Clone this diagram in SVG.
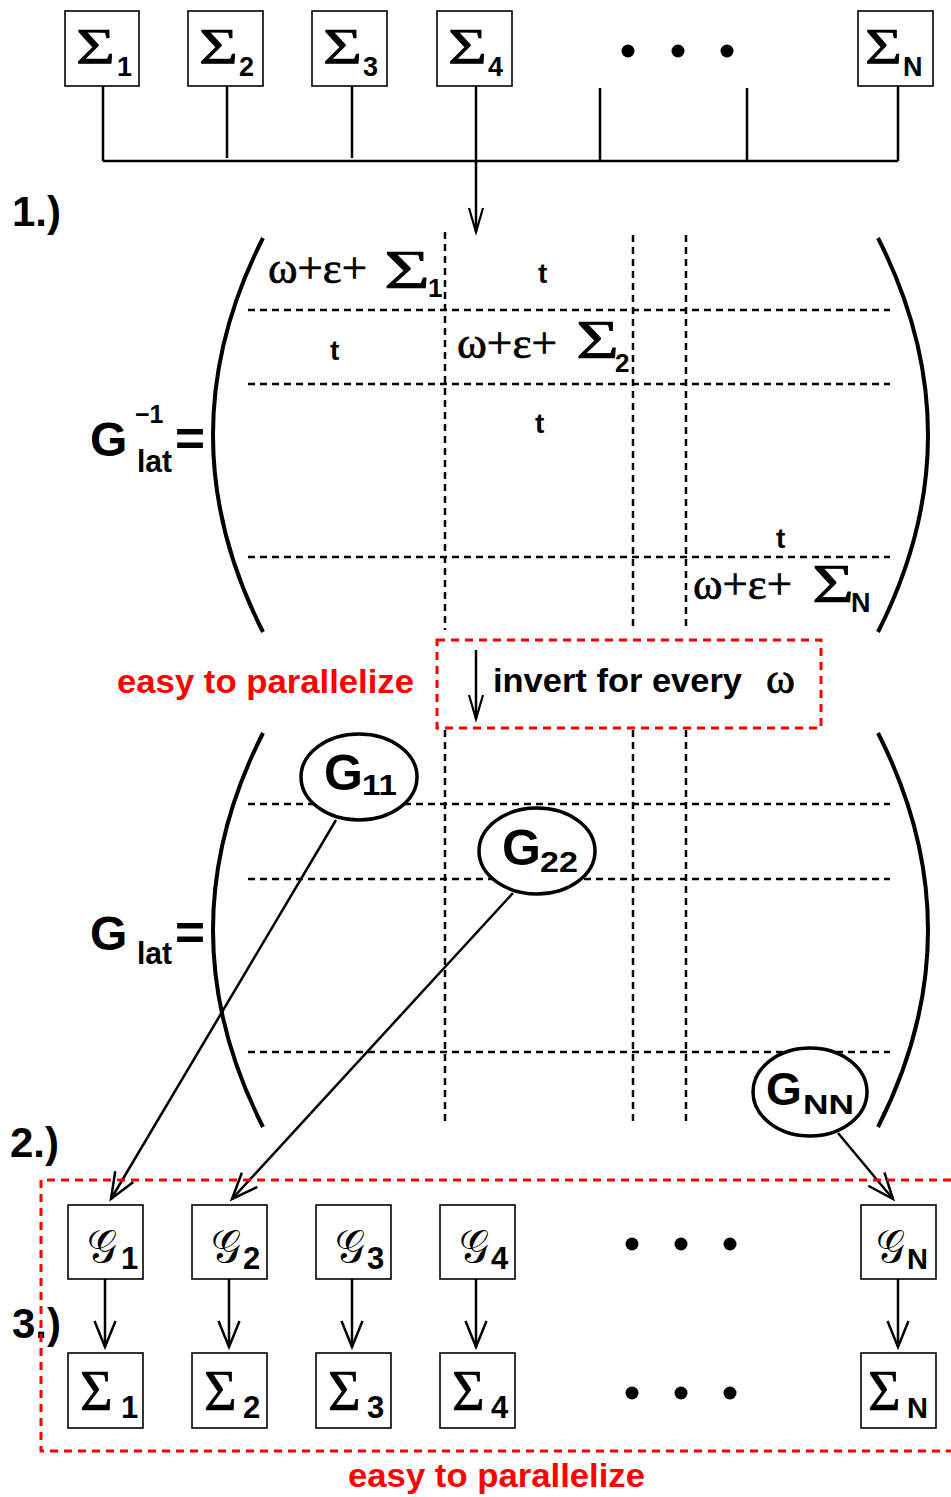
<svg xmlns="http://www.w3.org/2000/svg" width="951" height="1497" viewBox="0 0 951 1497">
<defs>
<style>
.box{fill:#fff;stroke:#000;stroke-width:1.6}
.sig{font-family:"Liberation Serif","Times New Roman",serif;fill:#000;stroke:#000;stroke-width:0.7}
.bs{font-family:"Liberation Sans",Arial,sans-serif;font-weight:bold;fill:#000}
.red{fill:#ff0000}
.dash{stroke:#000;stroke-width:2.5;stroke-dasharray:7 5;fill:none}
.rdash{stroke:#ff0000;stroke-width:3;stroke-dasharray:8 6;fill:none}
.paren{stroke:#000;stroke-width:4;fill:none}
.conn{stroke:#000;stroke-width:2.5;fill:none}
.ell{fill:#fff;stroke:#000;stroke-width:3.5}
.scr{font-family:"DejaVu Serif","DejaVu Sans","Noto Sans",serif;font-style:normal;fill:#000}
</style>
<marker id="aw" markerUnits="userSpaceOnUse" markerWidth="32" markerHeight="26" refX="27" refY="12" orient="auto">
<path d="M1,1.5 L27,12 L1,22.5" fill="none" stroke="#000" stroke-width="2.5"/>
</marker>
<marker id="an" markerUnits="userSpaceOnUse" markerWidth="30" markerHeight="18" refX="25" refY="8" orient="auto">
<path d="M1,1 L25,8 L1,15" fill="none" stroke="#000" stroke-width="2.2"/>
</marker>
</defs>
<rect width="951" height="1497" fill="#fff"/>

<!-- connectors -->
<g id="connectors">
<path class="conn" d="M103,86 V161 M227,86 V158 M352,86 V158 M600,88 V161 M747,88 V161 M898,86 V161 M103,161 H898"/>
<line class="conn" x1="476" y1="86" x2="476" y2="232" marker-end="url(#an)"/>
<line class="conn" x1="476" y1="650" x2="476" y2="719" marker-end="url(#an)"/>
<line class="conn" x1="336" y1="820" x2="111" y2="1199" marker-end="url(#aw)"/>
<line class="conn" x1="513" y1="893" x2="232" y2="1199" marker-end="url(#aw)"/>
<line class="conn" x1="838" y1="1133" x2="893" y2="1199" marker-end="url(#aw)"/>
<line class="conn" x1="105" y1="1279" x2="105" y2="1347" marker-end="url(#aw)"/>
<line class="conn" x1="229" y1="1279" x2="229" y2="1347" marker-end="url(#aw)"/>
<line class="conn" x1="352" y1="1279" x2="352" y2="1347" marker-end="url(#aw)"/>
<line class="conn" x1="476" y1="1279" x2="476" y2="1347" marker-end="url(#aw)"/>
<line class="conn" x1="898" y1="1279" x2="898" y2="1347" marker-end="url(#aw)"/>
</g>

<!-- top sigma boxes -->
<g id="top-s1"><rect class="box" x="65" y="11" width="74" height="75"/><text class="sig" x="76" y="63" font-size="51" textLength="39" lengthAdjust="spacingAndGlyphs">Σ</text><text class="bs" x="117" y="76" font-size="27">1</text></g>
<g id="top-s2"><rect class="box" x="188" y="11" width="75" height="75"/><text class="sig" x="199" y="63" font-size="51" textLength="39" lengthAdjust="spacingAndGlyphs">Σ</text><text class="bs" x="239" y="76" font-size="27">2</text></g>
<g id="top-s3"><rect class="box" x="312" y="11" width="75" height="75"/><text class="sig" x="323" y="63" font-size="51" textLength="39" lengthAdjust="spacingAndGlyphs">Σ</text><text class="bs" x="363" y="76" font-size="27">3</text></g>
<g id="top-s4"><rect class="box" x="437" y="11" width="75" height="75"/><text class="sig" x="448" y="63" font-size="51" textLength="39" lengthAdjust="spacingAndGlyphs">Σ</text><text class="bs" x="488" y="76" font-size="27">4</text></g>
<g id="top-dots"><circle cx="628" cy="51" r="6.5"/><circle cx="678" cy="51" r="6.5"/><circle cx="727" cy="51" r="6.5"/></g>
<g id="top-sN"><rect class="box" x="858" y="11" width="75" height="75"/><text class="sig" x="865" y="63" font-size="51" textLength="37" lengthAdjust="spacingAndGlyphs">Σ</text><text class="bs" x="903" y="76" font-size="27">N</text></g>

<!-- step labels -->
<text class="bs" x="12" y="226" font-size="42">1.)</text>
<text class="bs" x="10" y="1157" font-size="42">2.)</text>
<text class="bs" x="12" y="1338" font-size="42">3.)</text>

<!-- matrix 1 -->
<g id="matrix-inverse">
<text class="bs" x="90" y="456" font-size="48">G</text>
<text class="bs" x="135" y="423" font-size="25">−1</text>
<text class="bs" x="137" y="472" font-size="32" textLength="35" lengthAdjust="spacingAndGlyphs">lat</text>
<text class="bs" x="175" y="456" font-size="50" textLength="30" lengthAdjust="spacingAndGlyphs">=</text>
<path class="paren" d="M263,238 Q163,435 263,632"/>
<path class="paren" d="M878,238 Q978,435 878,632"/>
<path class="dash" d="M248,310 H890 M248,384 H890 M248,557 H890"/>
<path class="dash" d="M445,232 V630 M633,235 V626 M686,235 V626"/>
<text class="sig" x="268" y="283" font-size="44" textLength="99" lengthAdjust="spacingAndGlyphs">ω+ε+</text>
<text class="sig" x="384" y="288" font-size="55" textLength="46" lengthAdjust="spacingAndGlyphs">Σ</text>
<text class="bs" x="428" y="297" font-size="26">1</text>
<text class="bs" x="538" y="283" font-size="28">t</text>
<text class="bs" x="330" y="360" font-size="28">t</text>
<text class="sig" x="457" y="358" font-size="44" textLength="100" lengthAdjust="spacingAndGlyphs">ω+ε+</text>
<text class="sig" x="576" y="358" font-size="55" textLength="43" lengthAdjust="spacingAndGlyphs">Σ</text>
<text class="bs" x="615" y="372" font-size="26">2</text>
<text class="bs" x="535" y="433" font-size="28">t</text>
<text class="bs" x="776" y="548" font-size="28">t</text>
<text class="sig" x="693" y="599" font-size="44" textLength="99" lengthAdjust="spacingAndGlyphs">ω+ε+</text>
<text class="sig" x="812" y="602" font-size="55" textLength="42" lengthAdjust="spacingAndGlyphs">Σ</text>
<text class="bs" x="851" y="612" font-size="27">N</text>
</g>

<!-- invert box -->
<g id="invert">
<rect class="rdash" x="437" y="640" width="384" height="88"/>
<text class="bs" x="493" y="692" font-size="34" textLength="249" lengthAdjust="spacingAndGlyphs">invert for every</text>
<text class="sig" x="766" y="693" font-size="42" textLength="29" lengthAdjust="spacingAndGlyphs">ω</text>
</g>
<text class="bs red" x="117" y="693" font-size="34" textLength="297" lengthAdjust="spacingAndGlyphs">easy to parallelize</text>

<!-- matrix 2 -->
<g id="matrix-glat">
<text class="bs" x="90" y="950" font-size="48">G</text>
<text class="bs" x="137" y="964" font-size="32" textLength="35" lengthAdjust="spacingAndGlyphs">lat</text>
<text class="bs" x="175" y="950" font-size="50" textLength="30" lengthAdjust="spacingAndGlyphs">=</text>
<path class="paren" d="M263,733 Q163,930 263,1127"/>
<path class="paren" d="M878,733 Q978,930 878,1127"/>
<path class="dash" d="M248,804 H890 M248,879 H890 M248,1052 H890"/>
<path class="dash" d="M445,730 V1121 M633,730 V1121 M686,730 V1121"/>
</g>

<g id="G11"><ellipse class="ell" cx="359" cy="777" rx="58" ry="43"/><text class="bs" x="324" y="790" font-size="50">G</text><text class="bs" x="362" y="795" font-size="30" textLength="35" lengthAdjust="spacingAndGlyphs">11</text></g>
<g id="G22"><ellipse class="ell" cx="537" cy="851" rx="58" ry="43"/><text class="bs" x="502" y="865" font-size="50">G</text><text class="bs" x="540" y="872" font-size="30" textLength="38" lengthAdjust="spacingAndGlyphs">22</text></g>
<g id="GNN"><ellipse class="ell" cx="810" cy="1092" rx="57" ry="44"/><text class="bs" x="766" y="1105" font-size="46">G</text><text class="bs" x="803" y="1114" font-size="27" textLength="51" lengthAdjust="spacingAndGlyphs">NN</text></g>

<!-- bottom region -->
<path class="rdash" d="M951,1180 H41 V1451 H951"/>
<text class="bs red" x="348" y="1487" font-size="34" textLength="297" lengthAdjust="spacingAndGlyphs">easy to parallelize</text>

<g id="g1"><rect class="box" x="68" y="1205" width="75" height="74"/><text class="scr" x="87" y="1262" font-size="46" textLength="30" lengthAdjust="spacingAndGlyphs">𝒢</text><text class="bs" x="121" y="1269" font-size="31">1</text></g>
<g id="g2"><rect class="box" x="192" y="1205" width="75" height="74"/><text class="scr" x="211" y="1262" font-size="46" textLength="30" lengthAdjust="spacingAndGlyphs">𝒢</text><text class="bs" x="243" y="1269" font-size="31">2</text></g>
<g id="g3"><rect class="box" x="316" y="1205" width="75" height="74"/><text class="scr" x="335" y="1262" font-size="46" textLength="30" lengthAdjust="spacingAndGlyphs">𝒢</text><text class="bs" x="367" y="1269" font-size="31">3</text></g>
<g id="g4"><rect class="box" x="440" y="1205" width="75" height="74"/><text class="scr" x="459" y="1262" font-size="46" textLength="30" lengthAdjust="spacingAndGlyphs">𝒢</text><text class="bs" x="491" y="1269" font-size="31">4</text></g>
<g id="gdots"><circle cx="632" cy="1244" r="6.5"/><circle cx="681" cy="1244" r="6.5"/><circle cx="730" cy="1244" r="6.5"/></g>
<g id="gN"><rect class="box" x="861" y="1205" width="75" height="74"/><text class="scr" x="876" y="1262" font-size="46" textLength="29" lengthAdjust="spacingAndGlyphs">𝒢</text><text class="bs" x="907" y="1269" font-size="29">N</text></g>

<g id="s1"><rect class="box" x="68" y="1353" width="75" height="75"/><text class="sig" x="80" y="1410" font-size="56">Σ</text><text class="bs" x="121" y="1418" font-size="31">1</text></g>
<g id="s2"><rect class="box" x="192" y="1353" width="75" height="75"/><text class="sig" x="204" y="1410" font-size="56">Σ</text><text class="bs" x="243" y="1418" font-size="31">2</text></g>
<g id="s3"><rect class="box" x="316" y="1353" width="75" height="75"/><text class="sig" x="328" y="1410" font-size="56">Σ</text><text class="bs" x="367" y="1418" font-size="31">3</text></g>
<g id="s4"><rect class="box" x="440" y="1353" width="75" height="75"/><text class="sig" x="452" y="1410" font-size="56">Σ</text><text class="bs" x="491" y="1418" font-size="31">4</text></g>
<g id="sdots"><circle cx="632" cy="1393" r="6.5"/><circle cx="681" cy="1393" r="6.5"/><circle cx="730" cy="1393" r="6.5"/></g>
<g id="sN"><rect class="box" x="861" y="1353" width="75" height="75"/><text class="sig" x="868" y="1410" font-size="56">Σ</text><text class="bs" x="907" y="1418" font-size="29">N</text></g>
</svg>
